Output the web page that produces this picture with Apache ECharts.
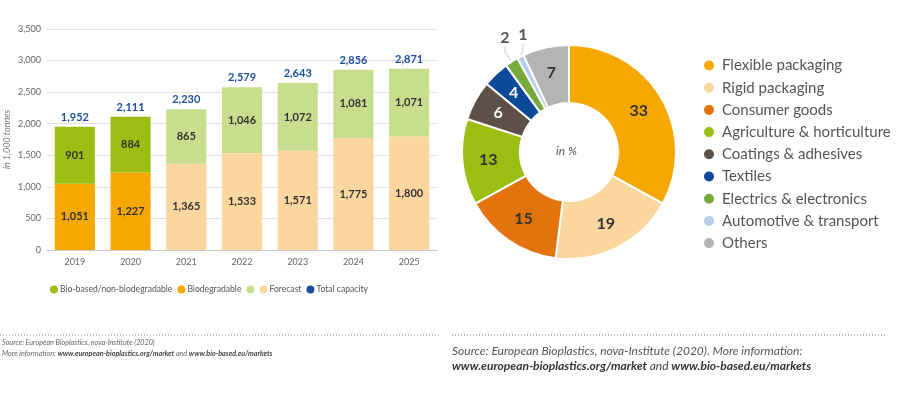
<!DOCTYPE html>
<html><head><meta charset="utf-8">
<script src="https://cdn.jsdelivr.net/npm/echarts@6/dist/echarts.min.js"></script>
<style>html,body{margin:0;padding:0;background:#fff}#c{width:898px;height:395px}</style>
</head><body><div id="c"></div>
<script>
const years = ['2019','2020','2021','2022','2023','2024','2025'];
const biodegradable = [1051,1227,1365,1533,1571,1775,1800];
const bioBased = [901,884,865,1046,1072,1081,1071];
const totals = [1952,2111,2230,2579,2643,2856,2871];
const forecastFrom = 2; // index of first forecast year
const yTicks = [0,500,1000,1500,2000,2500,3000,3500];

const pieNames = ['Flexible packaging','Rigid packaging','Consumer goods','Agriculture & horticulture','Coatings & adhesives','Textiles','Electrics & electronics','Automotive & transport','Others'];
const pieValues = [33,19,15,13,6,4,2,1,7];
const pieColors = ['#f5a800','#fbd69e','#e3730d','#9dbd12','#5d5048','#0b4a98','#79a93c','#b3cdea','#b4b4b4'];
const pieLabelColors = ['#333','#333','#333','#333','#ffffff','#ffffff','#333','#333','#333'];

const C = {bio:'#9dbd12', deg:'#f5a800', bioF:'#c9dd8e', degF:'#fbd69e', total:'#1d4f9f'};
const fmt = v => v.toLocaleString('en-US');
const FONT = 'Lato';

const chart = echarts.init(document.getElementById('c'));
const barLabel = {show:true, position:'inside', color:'#333', fontWeight:'bold', fontSize:11, fontFamily:FONT, formatter:p=>fmt(p.value)};

chart.setOption({
  animation:false,
  textStyle:{fontFamily:FONT},
  grid:{left:47, right:461, top:29, bottom:145},
  xAxis:{type:'category', data:years,
    axisLine:{lineStyle:{color:'#c8c8c8'}}, axisTick:{show:false},
    axisLabel:{color:'#666', fontSize:9, margin:8}},
  yAxis:{type:'value', min:0, max:3500, interval:500,
    name:'in 1,000 tonnes', nameLocation:'middle', nameGap:35, nameRotate:90,
    nameTextStyle:{fontStyle:'italic', color:'#777', fontSize:9},
    axisLabel:{color:'#666', fontSize:9, margin:6, formatter:v=>fmt(v)},
    splitLine:{lineStyle:{color:'#e0e0e0'}}},
  legend:[{
    left:45, top:280, itemGap:5, itemWidth:8, itemHeight:8, icon:'circle',
    selectedMode:false,
    textStyle:{color:'#555', fontSize:8.6, padding:[0,0,0,-3]},
    formatter:n=> n==='fcA' ? '' : n,
    data:['Bio-based/non-biodegradable','Biodegradable','fcA','Forecast','Total capacity']
  },{
    orient:'vertical', left:697, top:53, itemGap:7.2, itemWidth:12, itemHeight:12, icon:'circle',
    selectedMode:false,
    textStyle:{color:'#555', fontSize:15, padding:[0,0,0,2]},
    data:pieNames
  }],
  series:[
    {name:'Biodegradable', type:'bar', stack:'t', barWidth:'72%', itemStyle:{color:C.deg},
     data:biodegradable.map((v,i)=>({value:v, itemStyle:{color:i>=forecastFrom?C.degF:C.deg}})),
     label:barLabel},
    {name:'Bio-based/non-biodegradable', type:'bar', stack:'t', itemStyle:{color:C.bio},
     data:bioBased.map((v,i)=>({value:v, itemStyle:{color:i>=forecastFrom?C.bioF:C.bio}})),
     label:barLabel},
    {name:'Total capacity', type:'bar', stack:'t', itemStyle:{color:C.total},
     data:totals.map(v=>0),
     label:{show:true, position:'top', distance:4, color:C.total, fontWeight:'bold', fontSize:11, fontFamily:FONT,
       formatter:p=>fmt(totals[p.dataIndex])}},
    {name:'fcA', type:'line', data:[], itemStyle:{color:C.bioF}},
    {name:'Forecast', type:'line', data:[], itemStyle:{color:C.degF}},
    {name:'share', type:'pie', center:[569,152], radius:[49,107], startAngle:90, clockwise:true,
     avoidLabelOverlap:false,
     itemStyle:{borderColor:'#fff', borderWidth:2},
     data:pieNames.map((n,i)=>{
       const small = pieValues[i] <= 2;
       return {name:n, value:pieValues[i], itemStyle:{color:pieColors[i]},
         label: small ? {show:true, position:'outside', color:'#555', fontSize:16, fontWeight:'bold', fontFamily:FONT}
                      : {show:true, position:'inside', color:pieLabelColors[i], fontSize:16, fontWeight:'bold', fontFamily:FONT},
         labelLine: small ? {show:true, length:6, length2:6, lineStyle:{color:'#999', type:'dotted', width:1}} : {show:false}};
     }),
     label:{formatter:p=>String(p.value)},
     labelLayout:p=>{
       if (p.dataIndex===6) return {x:505, y:38, align:'center', verticalAlign:'middle'};
       if (p.dataIndex===7) return {x:523, y:35, align:'center', verticalAlign:'middle'};
       return {};
     }}
  ],
  graphic:[
    {type:'text', left:556, top:145, style:{text:'in %', fill:'#555', font:'italic 12px Lato'}},
    {type:'line', shape:{x1:0,y1:335,x2:440,y2:335}, style:{stroke:'#888', lineWidth:1, lineDash:[1,2]}},
    {type:'line', shape:{x1:452,y1:335,x2:885,y2:335}, style:{stroke:'#777', lineWidth:1.2, lineDash:[1,2]}},
    {type:'text', x:2, y:339, style:{fill:'#666', font:'italic 7.2px Lato', text:'Source: European Bioplastics, nova-Institute (2020)'}},
    {type:'text', x:2, y:350, style:{fill:'#666', font:'italic 7.2px Lato',
      text:'More information: {b|www.european-bioplastics.org/market} and {b|www.bio-based.eu/markets}',
      rich:{b:{fontWeight:'bold', fontStyle:'italic', fill:'#444', fontSize:7.2, fontFamily:'Lato'}}}},
    {type:'text', x:452, y:345, style:{fill:'#555', font:'italic 12px Lato', text:'Source: European Bioplastics, nova-Institute (2020). More information:'}},
    {type:'text', x:452, y:360, style:{fill:'#444', font:'italic 12px Lato',
      text:'{b|www.european-bioplastics.org/market} and {b|www.bio-based.eu/markets}',
      rich:{b:{fontWeight:'bold', fontStyle:'italic', fill:'#333', fontSize:12, fontFamily:'Lato'}}}}
  ]
});
</script></body></html>
